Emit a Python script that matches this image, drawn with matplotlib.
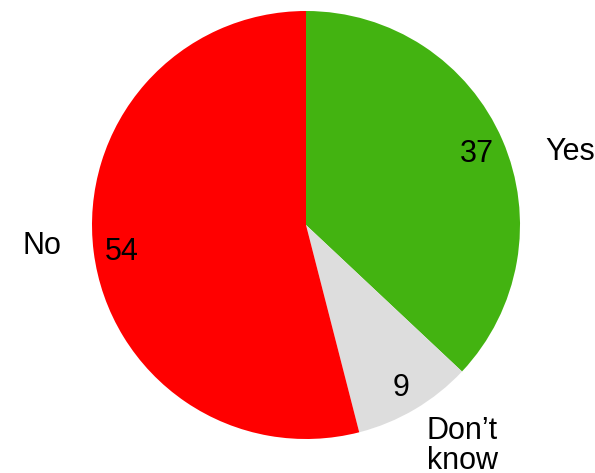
import numpy as np
import matplotlib.pyplot as plt

plt.rcParams["font.family"] = ["Liberation Sans", "DejaVu Sans"]

labels = ["Yes", "Don\u2019t\nknow", "No"]
values = [37, 9, 54]
colors = ["#43B311", "#DDDDDD", "#FF0000"]

# label positions in units of the pie radius
label_pos = [(1.235, 0.34), (0.73, -1.035), (-1.232, -0.10)]

fig = plt.figure(figsize=(5.95, 4.73), dpi=100)
ax = fig.add_axes([0, 0, 1, 1])

wedges, texts = ax.pie(
    values,
    startangle=90,
    counterclock=False,
    colors=colors,
    radius=1,
    wedgeprops=dict(linewidth=0),
)

# numbers inside the wedges
for w, v in zip(wedges, values):
    ang = np.deg2rad((w.theta1 + w.theta2) / 2)
    r = 0.87
    ax.text(r * np.cos(ang), r * np.sin(ang) - 0.015, str(v),
            ha="center", va="center", fontsize=22, color="black")

for (x, y), lab in zip(label_pos, labels):
    ax.text(x, y, lab, ha="center", va="center", fontsize=22,
            linespacing=1.0, color="black")

R = 214
ax.set_xlim(-306 / R, (595 - 306) / R)
ax.set_ylim(-(473 - 225) / R, 225 / R)
ax.set_aspect("auto")
ax.axis("off")

plt.savefig("out.png", dpi=100)
